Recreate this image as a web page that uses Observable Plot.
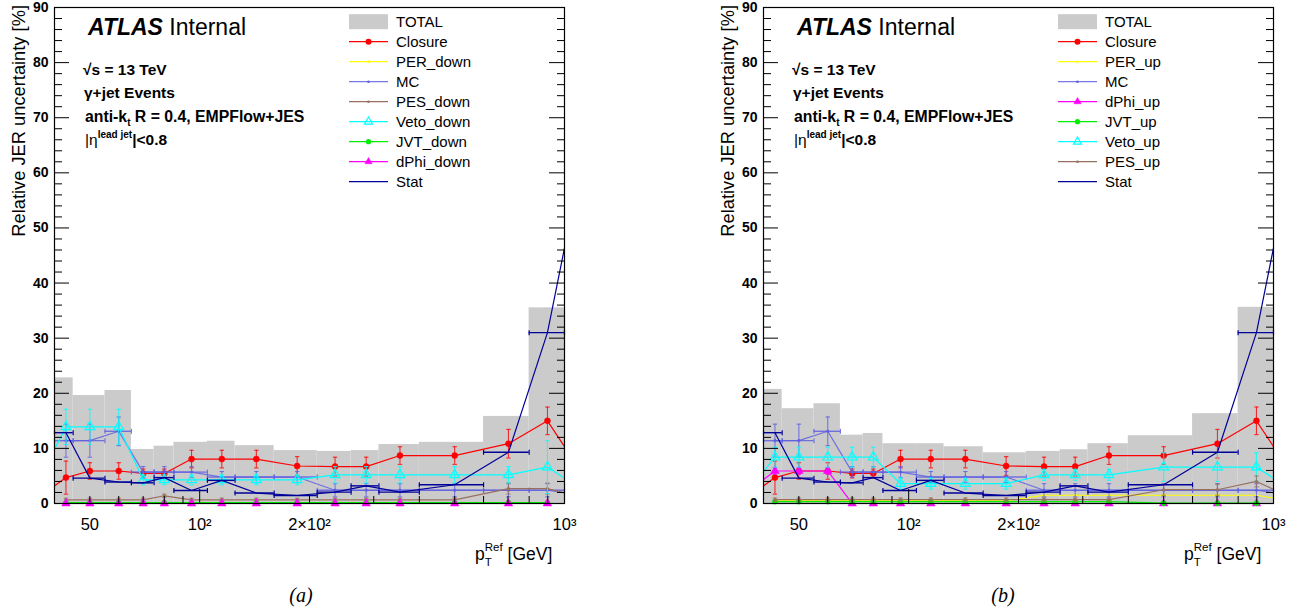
<!DOCTYPE html>
<html><head><meta charset="utf-8">
<script src="https://cdn.jsdelivr.net/npm/d3@7"></script>
<script src="https://cdn.jsdelivr.net/npm/@observablehq/plot@0.6"></script>
<style>
body{margin:0;background:#fff;width:1306px;height:612px;overflow:hidden;font-family:"Liberation Sans",Arial,sans-serif}
#wrap{display:flex}
.panel{position:relative;width:653px;height:612px}
.cap{position:absolute;top:584px;font-family:"Liberation Serif",serif;font-style:italic;font-size:20px;transform:translateX(-50%)}
</style></head><body>
<div id="wrap"><div class="panel" id="pa"></div><div class="panel" id="pb"></div></div>
<script>
// ---------- data ----------
const binEdges = [40,45,55,65,75,85,105,125,160,210,260,310,400,600,800,1000];
// mean pT per bin, with one off-axis neighbour point on each side (drawn clipped)
const ptLine = [37,43,50,60,70,80,95,115,143,185,235,286,354,500,702,898,1100];

const yMajor = [0,10,20,30,40,50,60,70,80,90];
const yMinor = [2,4,6,8,12,14,16,18,22,24,26,28,32,34,36,38,42,44,46,48,52,54,56,58,62,64,66,68,72,74,76,78,82,84,86,88];
const xMinor = [40,50,60,70,80,90,200,300,400,500,600,700,800,900];
const xMajor = [100,1000];
const xTickValues = [50,100,200,1000];
const xTickLabels = ["50","10²","2×10²","10³"];

// panel (a): down variations
const totalA = [22.8,19.6,20.5,9.8,10.4,11.1,11.3,10.5,9.6,9.45,9.6,10.7,11.1,15.8,35.5];
const closure = [1.6,4.7,5.9,5.9,5.45,5.45,8.06,8.06,8.06,6.8,6.7,6.7,8.7,8.7,10.85,15.0,6.2];
const closureErr = [null,3.0,1.5,1.5,0.8,0.8,1.6,1.6,1.6,1.7,1.7,1.7,1.6,1.6,2.6,2.5,null];
const perDown = [null,0.05,0.05,0.05,0.05,0.05,0.05,0.05,0.05,0.05,0.05,0.05,0.05,0.05,0.05,0.05,null];
const mc = [null,11.4,11.4,13.1,5.7,5.7,5.7,4.8,4.8,4.8,2.4,2.4,2.4,2.4,2.4,2.4,1.6];
const mcErr = [null,3.0,3.0,2.6,1.0,1.0,1.0,1.0,1.0,1.0,1.2,1.2,1.2,1.2,1.2,1.2,null];
const pesDown = [null,0.67,0.67,0.67,0.67,1.4,0.67,0.67,0.67,0.67,0.67,0.67,0.67,0.67,2.7,2.7,1.2];
const pesDownErr = [null,0.3,0.3,0.3,0.3,0.3,0.3,0.3,0.3,0.3,0.3,0.3,0.3,0.3,1.0,1.0,null];
const vetoDown = [5.5,13.9,13.9,13.9,4.3,4.3,4.3,4.3,4.3,4.3,5.2,5.2,5.2,5.2,5.2,6.6,2.8];
const vetoDownErr = [null,3.2,3.2,3.2,0.9,0.9,0.9,0.9,0.9,0.9,1.5,1.5,1.5,1.5,1.5,4.8,null];
const jvtDown = [null,0.15,0.15,0.15,0.15,0.15,0.15,0.15,0.15,0.15,0.15,0.15,0.15,0.15,0.15,0.15,null];
const dphiDown = [null,0,0,0,0,0,0,0,0,0,0,0,0,0,0,0,null];
const stat = [null,12.85,4.6,3.9,3.75,4.7,2.36,4.2,1.9,1.45,2.06,3.2,2.06,3.4,9.3,31.0,60];

// panel (b): up variations
const totalB = [20.7,17.2,18.1,12.4,12.7,10.85,10.85,10.3,9.2,9.45,9.75,10.85,12.3,16.3,35.6];
const perUp = [null,0.5,0.5,0.5,0.5,0.5,0.5,0.5,0.5,0.5,1.5,1.5,1.5,1.5,1.5,1.5,0.56];
const dphiUp = [2.6,5.9,5.9,5.9,0,0,0,0,0,0,0,0,0,0,0,0,null];
const dphiUpErr = [null,0.6,0.6,0.6,0.2,0.2,0.2,0.2,0.2,0.2,0.2,0.2,0.2,0.2,0.2,0.2,null];
const jvtUp = [null,0.35,0.35,0.35,0.35,0.35,0.35,0.35,0.35,0.35,0.35,0.35,0.35,0.05,0.05,0.05,null];
const vetoUp = [3.0,8.4,8.4,8.4,8.4,8.4,3.6,3.6,3.6,3.6,5.2,5.2,5.2,6.6,6.6,6.6,2.8];
const vetoUpErr = [null,1.8,1.8,1.8,1.8,1.8,1.0,1.0,1.0,1.0,1.0,1.0,1.0,2.6,2.6,2.6,null];
const pesUp = [null,0.7,0.7,0.7,0.7,0.7,0.7,0.7,0.7,0.7,0.7,0.7,0.7,2.5,2.5,4.0,1.3];
const pesUpErr = [null,0.3,0.3,0.3,0.3,0.3,0.3,0.3,0.3,0.3,0.3,0.3,0.3,1.0,1.0,1.0,null];

// ---------- styles ----------
const colTotal = "#cbcbcb";
const S = {
  closure:{color:"#ff0000", marker:"circle", r:3, fill:true},
  per:{color:"#ffff00", marker:"circle", r:1.3, fill:true},
  mc:{color:"#5f5fe2", marker:"circle", r:1.3, fill:true, hbar:true, opacity:0.85},
  pes:{color:"#98705f", marker:"circle", r:1.3, fill:true},
  veto:{color:"#00ffff", marker:"triangle", r:3.6, fill:false},
  jvt:{color:"#00ee00", marker:"circle", r:2.6, fill:true},
  dphi:{color:"#ff00ff", marker:"triangle", r:3.2, fill:true},
  stat:{color:"#000099", marker:null, hbar:true}
};

const hcap = {draw(ctx,size){const r=Math.sqrt(size/Math.PI);ctx.moveTo(-r,0);ctx.lineTo(r,0);}};
const vcap = {draw(ctx,size){const r=Math.sqrt(size/Math.PI);ctx.moveTo(0,-r);ctx.lineTo(0,r);}};

function seriesMarks(vals, err, st) {
  const pts = ptLine.map((x,i)=>({x, y: vals[i], e: err ? err[i] : null, i})).filter(d => d.y != null);
  const inner = pts.filter(d => d.i >= 1 && d.i <= 15);
  const op = st.opacity ?? 1;
  const out = [];
  out.push(Plot.line(pts, {x:"x", y:"y", stroke: st.color, strokeWidth: 1.2, strokeOpacity: op, clip: true}));
  if (st.hbar) {
    const hb = inner.map(d => ({y: d.y, lo: binEdges[d.i-1], hi: binEdges[d.i]}));
    out.push(Plot.ruleY(hb, {y:"y", x1:"lo", x2:"hi", stroke: st.color, strokeWidth: 1.4, strokeOpacity: op}));
    out.push(Plot.dot(hb, {x:"lo", y:"y", r:2.5, symbol: vcap, fill:"none", stroke: st.color, strokeWidth: 1.2, strokeOpacity: op}));
    out.push(Plot.dot(hb, {x:"hi", y:"y", r:2.5, symbol: vcap, fill:"none", stroke: st.color, strokeWidth: 1.2, strokeOpacity: op}));
  }
  if (err) {
    const eb = inner.filter(d => d.e != null).map(d => ({x:d.x, lo: Math.max(0, d.y - d.e), hi: d.y + d.e}));
    out.push(Plot.ruleX(eb, {x:"x", y1:"lo", y2:"hi", stroke: st.color, strokeWidth: 1.1, strokeOpacity: 0.8}));
    out.push(Plot.dot(eb, {x:"x", y:"lo", r:2.2, symbol: hcap, fill:"none", stroke: st.color, strokeWidth: 1.1, strokeOpacity: 0.8}));
    out.push(Plot.dot(eb, {x:"x", y:"hi", r:2.2, symbol: hcap, fill:"none", stroke: st.color, strokeWidth: 1.1, strokeOpacity: 0.8}));
  }
  if (st.marker) {
    out.push(Plot.dot(inner, {x:"x", y:"y", r: st.r, symbol: st.marker,
      fill: st.fill ? st.color : "none", stroke: st.color, strokeWidth: st.fill ? 0.5 : 1.2}));
  }
  return out;
}

function makePanel(el, cfg) {
  const W = 653, H = 580, mT = 7, mB = 77, mL = cfg.mL, mR = W - mL - 510;
  const bins = cfg.total.map((v,i)=>({lo: binEdges[i], hi: binEdges[i+1], v}));
  const marks = [Plot.rect(bins, {x1:"lo", x2:"hi", y1:0, y2:"v", fill: colTotal})];
  for (const s of cfg.series) marks.push(...seriesMarks(s.vals, s.err, s.st));
  marks.push(
    Plot.axisY({anchor:"left", ticks: yMajor, tickSize: 0, tickPadding: 6, tickFormat: d => String(d), fontWeight:"bold", fontSize: 14, label: null}),
    Plot.axisY({anchor:"left", ticks: yMinor, tickSize: -8, tickFormat: () => "", label: null}),
    Plot.axisY({anchor:"left", ticks: yMajor, tickSize: -15, tickFormat: () => "", label: null}),
    Plot.axisY({anchor:"right", ticks: yMinor, tickSize: -8, tickFormat: () => "", label: null}),
    Plot.axisY({anchor:"right", ticks: yMajor, tickSize: -16, tickFormat: () => "", label: null}),
    Plot.axisX({anchor:"bottom", ticks: xMinor, tickSize: -7, tickFormat: () => "", label: null}),
    Plot.axisX({anchor:"bottom", ticks: xMajor, tickSize: -14, tickFormat: () => "", label: null}),
    Plot.axisX({anchor:"bottom", ticks: xTickValues, tickSize: 0, tickPadding: 15, fontSize: 16.5,
      tickFormat: d => xTickLabels[xTickValues.indexOf(d)], label: null}),
    Plot.frame({stroke:"#000", strokeWidth: 1.2})
  );
  const svg = Plot.plot({
    width: W, height: H, marginLeft: mL, marginRight: mR, marginTop: mT, marginBottom: mB,
    x: {type:"log", domain:[40,1000]},
    y: {domain:[0,90]},
    style: {fontFamily:'"Liberation Sans", Arial, sans-serif', background:"#fff", color:"#000"},
    marks
  });
  const g = d3.select(svg).append("g").attr("font-family",'"Liberation Sans", Arial, sans-serif')
    .attr("fill","#000").attr("text-anchor","start");
  // y title
  g.append("text").attr("transform",`translate(${mL-29},5) rotate(-90)`).attr("text-anchor","end")
    .attr("font-size",18.3).text("Relative JER uncertainty [%]");
  // x title
  const xt = g.append("text").attr("x", mL+510-89).attr("y",560).attr("font-size",17.5);
  xt.append("tspan").text("p");
  xt.append("tspan").attr("font-size",11.5).attr("dy",6).text("T");
  xt.append("tspan").attr("font-size",11.5).attr("dx",-7).attr("dy",-15).text("Ref");
  xt.append("tspan").attr("dy",9).text(" [GeV]");
  // ATLAS label
  const at = g.append("text").attr("x", mL+34).attr("y",35).attr("font-size",23);
  at.append("tspan").attr("font-weight","bold").attr("font-style","italic").text("ATLAS");
  at.append("tspan").text(" Internal");
  const ax = mL + 29;
  g.append("text").attr("x",ax).attr("y",75).attr("font-size",15.5).attr("font-weight","bold").text("√s = 13 TeV");
  g.append("text").attr("x",ax+1).attr("y",98).attr("font-size",15.5).attr("font-weight","bold").text("γ+jet Events");
  const t3 = g.append("text").attr("x",ax+2).attr("y",122).attr("font-size",15.8).attr("font-weight","bold");
  t3.append("tspan").text("anti-k");
  t3.append("tspan").attr("font-size",10).attr("dy",4).text("t");
  t3.append("tspan").attr("dy",-4).text(" R = 0.4, EMPFlow+JES");
  const t4 = g.append("text").attr("x",ax+2).attr("y",145).attr("font-size",15.5).attr("font-weight","bold");
  t4.append("tspan").attr("font-weight","normal").text("|η");
  t4.append("tspan").attr("font-size",10).attr("dy",-7).text("lead jet");
  t4.append("tspan").attr("dy",7).text("|<0.8");
  // legend
  const lx = mL + 295, ly0 = 21.7, dy = 20;
  cfg.legend.forEach((e,k) => {
    const y = ly0 + k*dy;
    if (e.total) {
      g.append("rect").attr("x",lx).attr("y",y-7.5).attr("width",39).attr("height",15).attr("fill",colTotal);
    } else {
      const st = e.st;
      g.append("line").attr("x1",lx).attr("x2",lx+39).attr("y1",y).attr("y2",y)
        .attr("stroke",st.color).attr("stroke-width",1.3).attr("stroke-opacity", st.opacity ?? 1);
      if (st.marker === "circle") {
        g.append("circle").attr("cx",lx+19.5).attr("cy",y).attr("r",st.r).attr("fill",st.color);
      } else if (st.marker === "triangle") {
        const sym = d3.symbol(d3.symbolTriangle, st.r*st.r*Math.PI*0.7)();
        g.append("path").attr("d",sym).attr("transform",`translate(${lx+19.5},${y})`)
          .attr("fill", st.fill ? st.color : "none").attr("stroke",st.color).attr("stroke-width", st.fill?0.5:1.2);
      }
    }
    g.append("text").attr("x",lx+47).attr("y",y+5.5).attr("font-size",15).text(e.label);
  });
  el.appendChild(svg);
  const cap = document.createElement("div");
  cap.className = "cap"; cap.style.left = cfg.capX + "px"; cap.textContent = cfg.caption;
  el.appendChild(cap);
}

makePanel(document.getElementById("pa"), {
  mL: 54, total: totalA, caption: "(a)", capX: 301,
  series: [
    {vals: closure, err: closureErr, st: S.closure},
    {vals: perDown, err: null, st: S.per},
    {vals: mc, err: mcErr, st: S.mc},
    {vals: pesDown, err: pesDownErr, st: S.pes},
    {vals: vetoDown, err: vetoDownErr, st: S.veto},
    {vals: jvtDown, err: null, st: S.jvt},
    {vals: dphiDown, err: null, st: S.dphi},
    {vals: stat, err: null, st: S.stat}
  ],
  legend: [
    {label:"TOTAL", total:true}, {label:"Closure", st:S.closure}, {label:"PER_down", st:S.per},
    {label:"MC", st:S.mc}, {label:"PES_down", st:S.pes}, {label:"Veto_down", st:S.veto},
    {label:"JVT_down", st:S.jvt}, {label:"dPhi_down", st:S.dphi}, {label:"Stat", st:S.stat}
  ]
});
makePanel(document.getElementById("pb"), {
  mL: 110, total: totalB, caption: "(b)", capX: 350,
  series: [
    {vals: closure, err: closureErr, st: S.closure},
    {vals: perUp, err: null, st: S.per},
    {vals: mc, err: mcErr, st: S.mc},
    {vals: dphiUp, err: dphiUpErr, st: S.dphi},
    {vals: jvtUp, err: null, st: S.jvt},
    {vals: vetoUp, err: vetoUpErr, st: S.veto},
    {vals: pesUp, err: pesUpErr, st: S.pes},
    {vals: stat, err: null, st: S.stat}
  ],
  legend: [
    {label:"TOTAL", total:true}, {label:"Closure", st:S.closure}, {label:"PER_up", st:S.per},
    {label:"MC", st:S.mc}, {label:"dPhi_up", st:S.dphi}, {label:"JVT_up", st:S.jvt},
    {label:"Veto_up", st:S.veto}, {label:"PES_up", st:S.pes}, {label:"Stat", st:S.stat}
  ]
});
</script>
</body></html>
